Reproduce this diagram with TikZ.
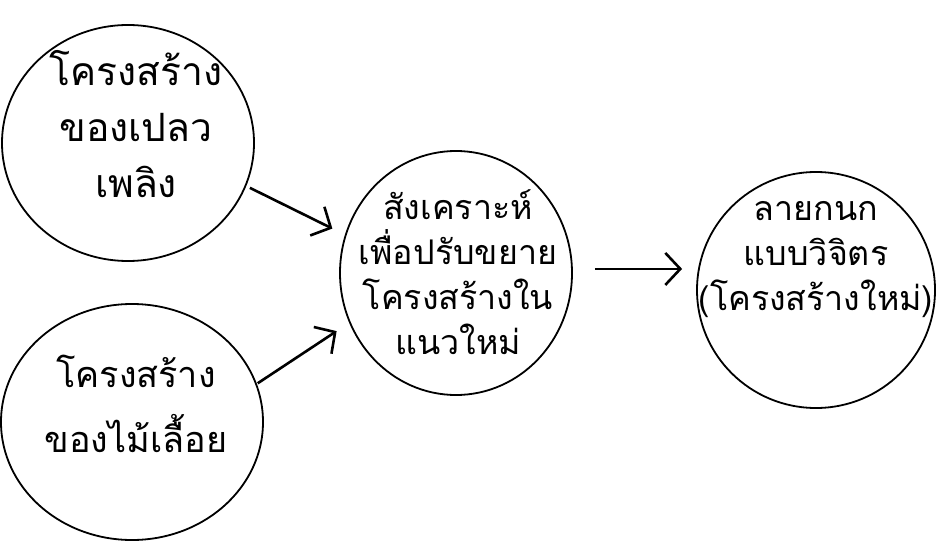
\documentclass[tikz,border=0pt]{standalone}
\usepackage{fontspec}
\newfontfamily\thaifont[Script=Thai]{Loma}
\usetikzlibrary{shapes.geometric,arrows.meta}
\tikzset{
  bubble/.style={draw, ellipse, line width=1.8pt, inner sep=0pt},
  label/.style={align=center, font=\thaifont\fontsize{34}{45}\selectfont, inner sep=0pt},
  arr/.style={line width=2.6pt, -{Straight Barb[length=15pt,width=32pt,line width=2.6pt]}}
}
\begin{document}
\begin{tikzpicture}[x=1pt,y=-1pt]
\useasboundingbox (0,0) rectangle (936,548);
% the four bubbles
\node[bubble, minimum width=252pt, minimum height=236pt] (c1) at (128,143) {};
\node[bubble, minimum width=262pt, minimum height=236pt] (c2) at (132,422) {};
\node[bubble, minimum width=232pt, minimum height=244pt] (c3) at (456,273) {};
\node[bubble, minimum width=238pt, minimum height=236pt] (c4) at (816,290) {};
% their texts
\node[label, font=\thaifont\fontsize{39}{56}\selectfont] (t1) at (136,124) {โครงสร้าง\\ ของเปลว\\ เพลิง};
\node[label, font=\thaifont\fontsize{36}{65}\selectfont] (t2) at (136,404) {โครงสร้าง\\ ของไม้เลื้อย};
\node[label] (t3) at (458,272) {สังเคราะห์\\ เพื่อปรับขยาย\\ โครงสร้างใน\\ แนวใหม่};
\node[label] (t4) at (816,260) {ลายกนก\\ แบบวิจิตร\\ (โครงสร้างใหม่)};
% connectors
\draw[arr, shorten <=4pt, shorten >=14pt] (c1.-20) -- (c3.161);
\draw[arr, shorten <=1pt, shorten >=15pt] (c2.17) -- (c3.205);
\draw[arr, shorten <=22pt, shorten >=14pt] (c3.2) -- (c3.2 -| c4.west);
\end{tikzpicture}
\end{document}
